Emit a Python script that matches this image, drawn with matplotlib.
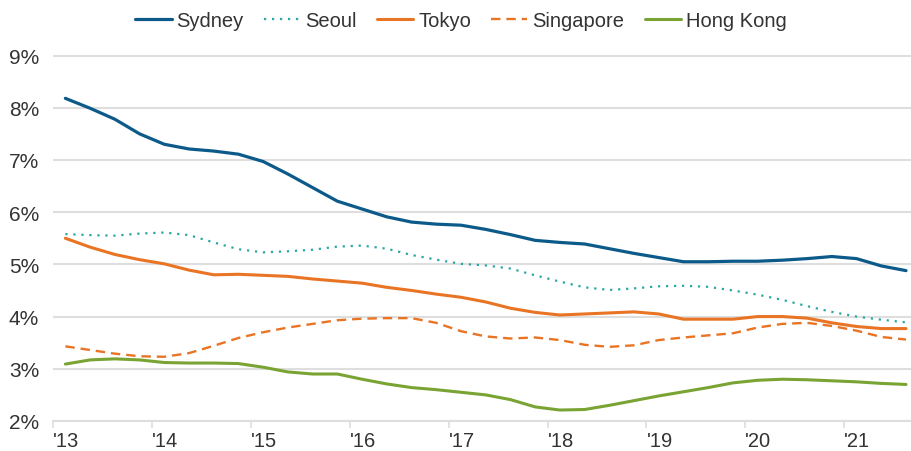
import matplotlib
matplotlib.use("Agg")
import matplotlib.pyplot as plt
import numpy as np

# Quarterly observations, first quarter of 2013 through the third quarter of 2021
start_year = 2013.125
step = 0.25

sydney = [8.18, 7.99, 7.78, 7.50, 7.30, 7.21, 7.17, 7.11, 6.97, 6.73, 6.47, 6.21,
          6.06, 5.91, 5.81, 5.77, 5.75, 5.67, 5.57, 5.46, 5.42, 5.39, 5.30, 5.21,
          5.13, 5.05, 5.05, 5.06, 5.06, 5.08, 5.11, 5.15, 5.11, 4.97, 4.88]
seoul = [5.58, 5.56, 5.55, 5.59, 5.61, 5.56, 5.42, 5.29, 5.23, 5.25, 5.28, 5.34,
         5.36, 5.30, 5.18, 5.09, 5.01, 4.98, 4.92, 4.79, 4.67, 4.56, 4.51, 4.54,
         4.58, 4.59, 4.57, 4.50, 4.42, 4.32, 4.20, 4.09, 4.00, 3.94, 3.89]
tokyo = [5.50, 5.33, 5.19, 5.09, 5.01, 4.89, 4.80, 4.81, 4.79, 4.77, 4.72, 4.68,
         4.64, 4.56, 4.50, 4.43, 4.37, 4.28, 4.16, 4.08, 4.03, 4.05, 4.07, 4.09,
         4.05, 3.95, 3.95, 3.95, 4.00, 4.00, 3.97, 3.88, 3.81, 3.77, 3.77]
singapore = [3.43, 3.36, 3.29, 3.24, 3.23, 3.30, 3.44, 3.59, 3.70, 3.79, 3.86, 3.93,
             3.96, 3.97, 3.97, 3.88, 3.72, 3.62, 3.58, 3.60, 3.55, 3.46, 3.42, 3.45,
             3.55, 3.60, 3.64, 3.68, 3.79, 3.86, 3.88, 3.82, 3.73, 3.61, 3.56]
hong_kong = [3.09, 3.17, 3.19, 3.17, 3.12, 3.11, 3.11, 3.10, 3.03, 2.94, 2.90, 2.90,
             2.80, 2.71, 2.64, 2.60, 2.55, 2.50, 2.41, 2.27, 2.21, 2.22, 2.30, 2.39,
             2.48, 2.56, 2.64, 2.73, 2.78, 2.80, 2.79, 2.77, 2.75, 2.72, 2.70]

year_ticks = [2013, 2014, 2015, 2016, 2017, 2018, 2019, 2020, 2021]
year_labels = ["'13", "'14", "'15", "'16", "'17", "'18", "'19", "'20", "'21"]
pct_ticks = [2, 3, 4, 5, 6, 7, 8, 9]
pct_labels = ["2%", "3%", "4%", "5%", "6%", "7%", "8%", "9%"]

plt.rcParams['font.family'] = ['Liberation Sans', 'DejaVu Sans']
text_color = "#333333"
grid_color = "#dedede"

blue = "#0b5a8a"
teal = "#2aa7a5"
orange = "#e87424"
green = "#79a433"

fig = plt.figure(figsize=(9.11, 4.52), dpi=100)
ax = fig.add_axes([53 / 911, 1 - 422 / 452, 1 - 53 / 911, (422 - 53.9) / 452])

x = start_year + step * np.arange(len(sydney))

ax.plot(x, sydney, color=blue, lw=2.3, label="Sydney", solid_capstyle="round")
ax.plot(x, seoul, color=teal, lw=1.6, linestyle=(0, (1, 2.6)), label="Seoul")
ax.plot(x, tokyo, color=orange, lw=2.2, label="Tokyo", solid_capstyle="round")
ax.plot(x, singapore, color=orange, lw=1.7, linestyle=(0, (4, 2.5)), label="Singapore")
ax.plot(x, hong_kong, color=green, lw=2.2, label="Hong Kong", solid_capstyle="round")

ax.set_xlim(2013.0, 2013.0 + 858 / 98.9)
ax.set_ylim(2, 9.05)

ax.set_yticks(pct_ticks)
ax.set_yticklabels(pct_labels)
ax.set_xticks(year_ticks)
ax.set_xticklabels(year_labels, ha="left")

ax.yaxis.grid(True, color=grid_color, lw=1.5)
ax.set_axisbelow(True)
for side in ("top", "right", "left"):
    ax.spines[side].set_visible(False)
ax.spines["bottom"].set_color(grid_color)
ax.spines["bottom"].set_linewidth(1.5)

ax.tick_params(axis="y", length=0, pad=10, labelsize=15, labelcolor=text_color)
ax.tick_params(axis="x", length=5, width=1.2, color=grid_color, pad=2.5,
               labelsize=14.5, labelcolor=text_color)

fig.legend(loc="center", bbox_to_anchor=(0.506, 0.953), ncol=5, frameon=False,
           fontsize=14.5, handlelength=1.8, handletextpad=0.25, columnspacing=1.0,
           labelcolor=text_color)

fig.savefig("out.png", dpi=100)
